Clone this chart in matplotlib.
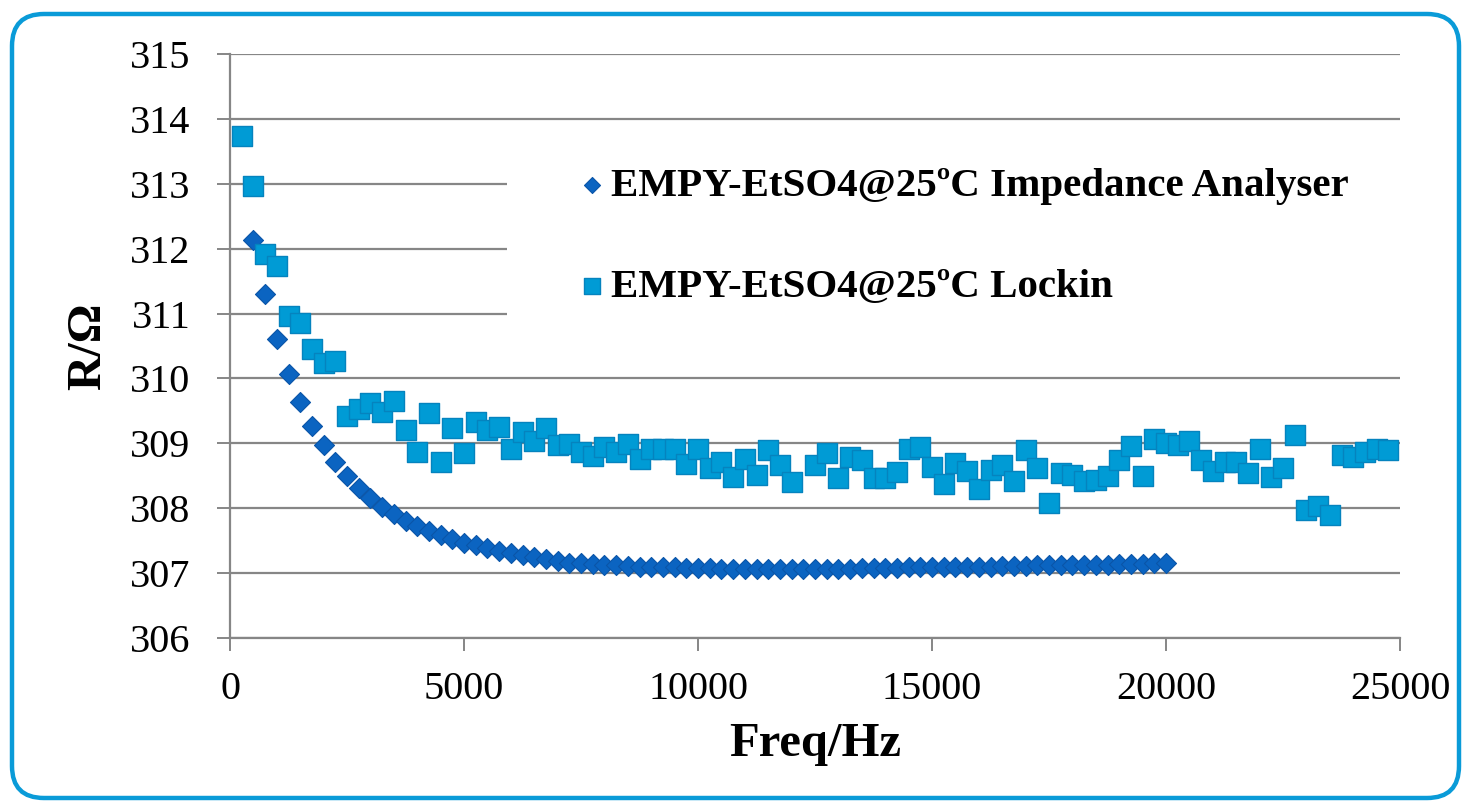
import matplotlib
matplotlib.use("Agg")
import matplotlib.pyplot as plt
from matplotlib.patches import FancyBboxPatch, Rectangle
from matplotlib.transforms import IdentityTransform

# ---- data ----
ia_freq = list(range(500, 20001, 250))
ia_R = [312.13, 311.30, 310.61, 310.07, 309.63, 309.27, 308.98, 308.72, 308.49, 308.31,
        308.16, 308.02, 307.91, 307.81, 307.73, 307.65, 307.58, 307.52, 307.47, 307.43,
        307.38, 307.34, 307.31, 307.28, 307.25, 307.22, 307.19, 307.16,
        307.15, 307.14, 307.13, 307.12, 307.11, 307.10, 307.10, 307.09, 307.09, 307.08,
        307.08, 307.08, 307.07, 307.07, 307.07, 307.07, 307.07, 307.07, 307.07, 307.07,
        307.07, 307.07, 307.07, 307.07, 307.08, 307.08, 307.08, 307.08, 307.09, 307.09,
        307.09, 307.09, 307.10, 307.10, 307.10, 307.10, 307.11, 307.11, 307.11, 307.12,
        307.12, 307.12, 307.12, 307.13, 307.13, 307.13, 307.14, 307.14, 307.14, 307.15,
        307.15]

li_freq = list(range(250, 12001, 250)) + list(range(12500, 24751, 250))
li_R = [313.73, 312.96, 311.92, 311.74, 310.97, 310.86, 310.45, 310.24, 310.27, 309.42,
        309.53, 309.62, 309.49, 309.65, 309.21, 308.87, 309.46, 308.72, 309.24, 308.85,
        309.33, 309.21, 309.25, 308.92, 309.17, 309.04, 309.23, 308.98, 308.99, 308.86,
        308.81, 308.94, 308.86, 308.99, 308.76, 308.92, 308.91, 308.91, 308.68, 308.91,
        308.62, 308.71, 308.48, 308.76, 308.51, 308.89, 308.67, 308.41,
        308.66, 308.85, 308.47, 308.79, 308.75, 308.47, 308.46, 308.56, 308.91, 308.94,
        308.64, 308.37, 308.70, 308.57, 308.30, 308.59, 308.67, 308.42, 308.89, 308.62,
        308.08, 308.55, 308.51, 308.42, 308.44, 308.49, 308.74, 308.96, 308.50, 309.06,
        309.01, 308.98, 309.03, 308.74, 308.57, 308.71, 308.71, 308.55, 308.91, 308.48,
        308.62, 309.13, 307.97, 308.04, 307.89, 308.82, 308.79, 308.86, 308.91, 308.89]

labels = ["EMPY-EtSO4@25ºC Impedance Analyser", "EMPY-EtSO4@25ºC Lockin"]
x_ticks = [0, 5000, 10000, 15000, 20000, 25000]
y_ticks = [306, 307, 308, 309, 310, 311, 312, 313, 314, 315]

assert len(ia_freq) == len(ia_R), (len(ia_freq), len(ia_R))
assert len(li_freq) == len(li_R), (len(li_freq), len(li_R))

# ---- style ----
W, H = 1463, 802
plt.rcParams['font.family'] = ['Liberation Serif', 'DejaVu Serif']
grid_col = '#868686'
dark_blue = '#0B64C1'
light_blue = '#009BD5'

fig = plt.figure(figsize=(W / 100, H / 100), dpi=100)
ax = fig.add_axes([230 / W, 1 - 638 / H, (1400 - 230) / W, (638 - 54) / H])

# rounded outer border
border = FancyBboxPatch((12, 4), 1447, 784, boxstyle="round,pad=0,rounding_size=32",
                        transform=IdentityTransform(), facecolor='none',
                        edgecolor='#0A9BD8', linewidth=3.2)
fig.patches.append(border)

ax.scatter(ia_freq, ia_R, marker='D', s=10.2 ** 2, color=dark_blue,
           edgecolors='#0A55A8', linewidths=0.8, zorder=3, label=labels[0])
ax.scatter(li_freq, li_R, marker='s', s=14 ** 2, color=light_blue,
           edgecolors='#0583BE', linewidths=1.0, zorder=3, label=labels[1])

ax.set_xlim(0, 25000)
ax.set_ylim(306, 315)
ax.set_xticks(x_ticks)
ax.set_yticks(y_ticks)
ax.set_xticklabels([str(v) for v in x_ticks])
ax.set_yticklabels([str(v) for v in y_ticks])

ax.set_axisbelow(True)
ax.yaxis.grid(True, color=grid_col, linewidth=1.6)
for s in ['top', 'right']:
    ax.spines[s].set_visible(False)
for s in ['left', 'bottom']:
    ax.spines[s].set_color(grid_col)
    ax.spines[s].set_linewidth(1.6)
ax.tick_params(axis='both', colors=grid_col, width=1.4, length=9.5, direction='out',
               labelcolor='black', labelsize=29)
ax.tick_params(axis='y', pad=19)
ax.tick_params(axis='x', pad=14)

ax.set_xlabel("Freq/Hz", fontsize=35, fontweight='bold', labelpad=10)
ax.set_ylabel("R/Ω", fontsize=35, fontweight='bold', labelpad=14)

# legend background (white box hiding gridlines)
bg = Rectangle((507, 802 - 372), 896, 250, transform=IdentityTransform(),
               facecolor='white', edgecolor='none', zorder=1.5)
ax.add_artist(bg)

leg = ax.legend(loc='upper left', bbox_to_anchor=((580 - 230) / 1170, (638 - 167) / 584),
                frameon=False, prop={'weight': 'bold', 'size': 29.5},
                labelspacing=1.55, handletextpad=0.15, handlelength=0.6,
                markerscale=0.8, borderpad=0, borderaxespad=0)
leg.set_zorder(4)

fig.savefig("out.png", dpi=100)
